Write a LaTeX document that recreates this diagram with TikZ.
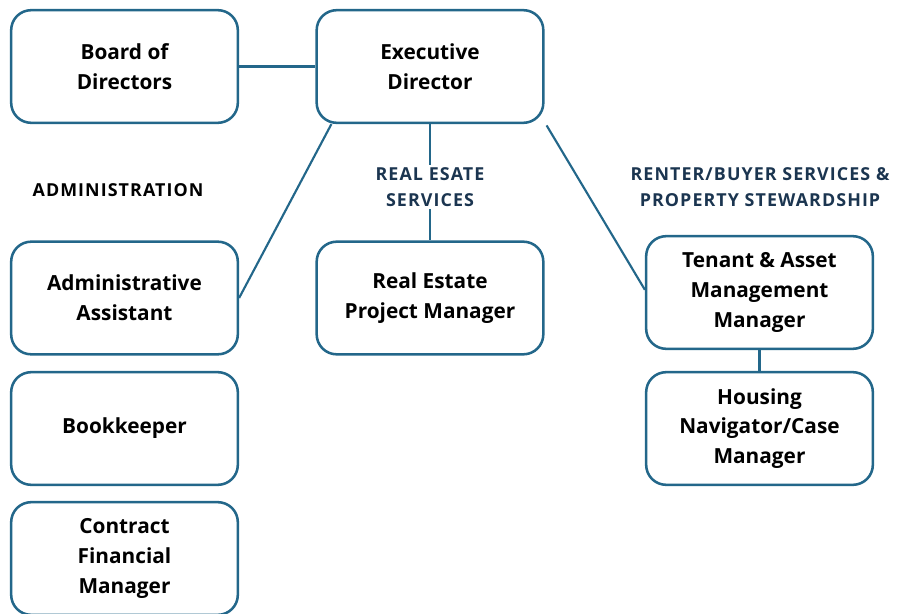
\documentclass[tikz,border=0pt]{standalone}
\usepackage{fontspec}
\setmainfont{Open Sans}
\definecolor{edge}{HTML}{23678A}
\definecolor{navy}{HTML}{1B3550}
\begin{document}
\begin{tikzpicture}[x=0.75pt,y=-0.75pt,
  role/.style={draw=edge,line width=1.9pt,rounded corners=15pt,fill=white,
    minimum width=170pt,minimum height=84.5pt,align=center,
    font=\bfseries\fontsize{15.6}{22.3}\selectfont,text=black},
  dept/.style={align=center,
    font=\bfseries\fontsize{13.4}{19.5}\selectfont\addfontfeature{LetterSpace=6},
    text=navy},
  link/.style={draw=edge,line width=1.6pt}]
\useasboundingbox (0,0) rectangle (898,613);

% top level
\node[role] (board) at (124.5,66.5) {Board of\\Directors};
\node[role] (exec)  at (430,66.5) {Executive\\Director};

% administration
\node[dept,text=black] (admlbl) at (118,190) {ADMINISTRATION};
\node[role] (assist) at (124.5,298) {Administrative\\Assistant};
\node[role] (books)  at (124.5,428.5) {Bookkeeper};
\node[role] (cfm)    at (124.5,558.5) {Contract\\Financial\\Manager};

% real estate services
\node[role] (repm) at (430,298) {Real Estate\\Project Manager};

% renter/buyer services
\node[role] (tam)  at (759.5,292.5) {Tenant \& Asset\\Management\\Manager};
\node[role] (hncm) at (759.5,428.5) {Housing\\Navigator/Case\\Manager};

% connectors
\draw[link] (board.east) -- (exec.west);
\draw[link] ([xshift=12pt]exec.south west) -- (assist.east);
\draw[link] (exec.south) -- (repm.north);
\node[dept,fill=white,inner sep=2pt] (relbl) at (430,187) {REAL ESATE\\SERVICES};
\draw[link] ([xshift=1.5pt,yshift=-1pt]exec.south east) -- ([yshift=2pt]tam.west);
\node[dept] (rblbl) at (760,187) {RENTER/BUYER SERVICES \&\\PROPERTY STEWARDSHIP};
\draw[link] (tam.south) -- (hncm.north);
\end{tikzpicture}
\end{document}
